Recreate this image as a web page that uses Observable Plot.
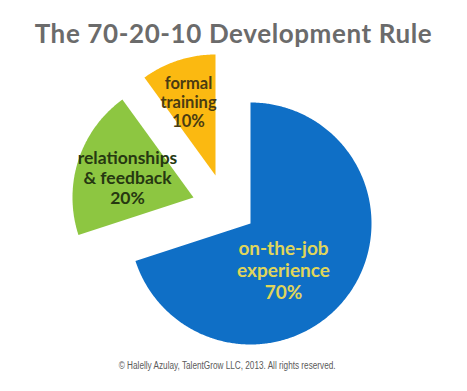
<!DOCTYPE html>
<html><head><meta charset="utf-8">
<script src="https://cdn.jsdelivr.net/npm/d3@7"></script>
<script src="https://cdn.jsdelivr.net/npm/@observablehq/plot@0.6"></script>
<style>
html,body{margin:0;padding:0;background:#fff;}
body{width:467px;height:391px;overflow:hidden;position:relative;font-family:Lato,sans-serif;}
#title{position:absolute;left:0;width:467px;top:20px;text-align:center;font:700 26px/26px Lato,sans-serif;letter-spacing:0.6px;color:#6b6b6b;white-space:nowrap;}
#chart{position:absolute;left:0;top:52px;width:467px;height:304px;}
#caption{position:absolute;left:0;width:454px;top:361px;text-align:center;font:400 10px/10px "Liberation Sans",Arial,sans-serif;color:#5a5a5a;white-space:nowrap;}
#caption span{display:inline-block;transform:scaleX(0.82);}
</style></head><body>
<div id="title">The 70-20-10 Development Rule</div>
<div id="chart"></div>
<div id="caption"><span>© Halelly Azulay, TalentGrow LLC, 2013. All rights reserved.</span></div>
<script>
// ---- data ----
const categories = ["on-the-job experience", "relationships & feedback", "formal training"];
const labelLines = ["on-the-job\nexperience\n70%", "relationships\n& feedback\n20%", "formal\ntraining\n10%"];
const values = [70, 20, 10];

// ---- styles / layout (not data) ----
const sliceColors = ["#0f6fc6", "#8dc641", "#fbb911"];
const textColors = ["#e0d65a", "#263811", "#4a3c12"];
const fontSizes = [19, 17.5, 16.5];
const R = 121;                  // pixels per unit radius
const W = 467, H = 304, CX = 250, CY = 171;
// explode offsets of each wedge apex, in pixels (right, down)
const explodePx = [[0, 0], [-57, -26], [-35, -48]];
// label anchors relative to the pie centre, in pixels (right, down)
const labelPx = [[33, 46.6], [-123, -46], [-62, -122]];

const arcs = d3.pie().sort(null).value(d => d)(values);

const wedgePts = [];
arcs.forEach((a, i) => {
  const ox = explodePx[i][0] / R, oy = -explodePx[i][1] / R;
  wedgePts.push({k: categories[i], c: sliceColors[i], x: ox, y: oy});
  const n = Math.max(8, Math.ceil((a.endAngle - a.startAngle) / 0.01));
  for (let j = 0; j <= n; j++) {
    const t = a.startAngle + (a.endAngle - a.startAngle) * j / n;
    wedgePts.push({k: categories[i], c: sliceColors[i], x: ox + Math.sin(t), y: oy + Math.cos(t)});
  }
  wedgePts.push({k: categories[i], c: sliceColors[i], x: ox, y: oy});
});

const labelMarks = categories.map((cat, i) => Plot.text([cat], {
  x: () => labelPx[i][0] / R,
  y: () => -labelPx[i][1] / R,
  text: () => labelLines[i],
  fill: textColors[i],
  fontSize: fontSizes[i],
  fontWeight: 700,
  fontFamily: "Lato, sans-serif",
  lineHeight: 1.16,
  textAnchor: "middle",
  lineAnchor: "middle"
}));

const chart = Plot.plot({
  width: W, height: H,
  margin: 0,
  x: {domain: [-CX / R, (W - CX) / R], axis: null},
  y: {domain: [-(H - CY) / R, CY / R], axis: null},
  color: {type: "identity"},
  style: {background: "transparent", overflow: "visible"},
  marks: [
    Plot.line(wedgePts, {x: "x", y: "y", z: "k", fill: "c", stroke: "none", curve: "linear"}),
    ...labelMarks
  ]
});
document.getElementById("chart").appendChild(chart);
</script>
</body></html>
